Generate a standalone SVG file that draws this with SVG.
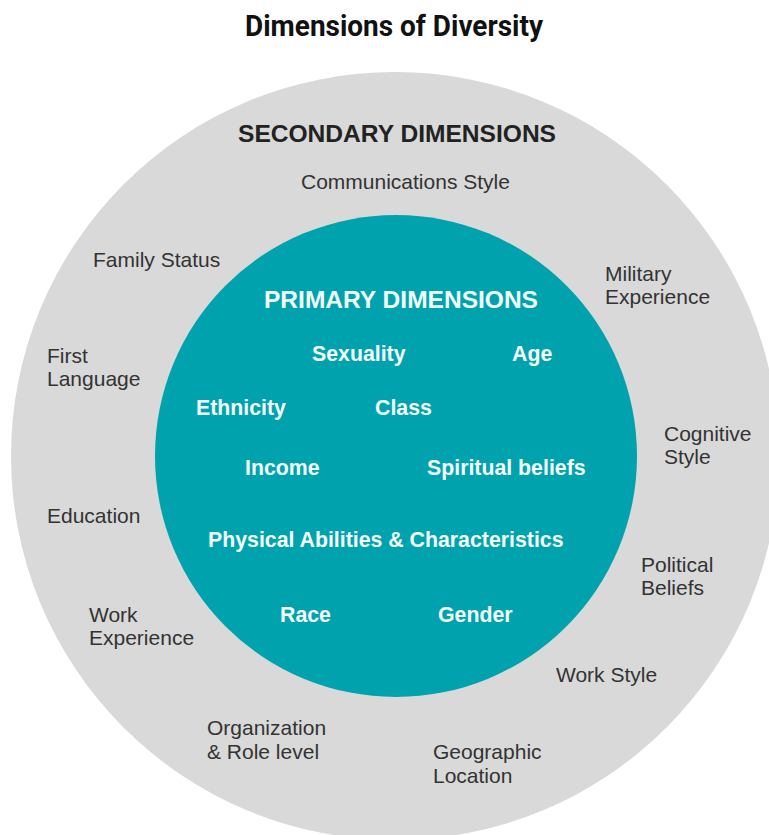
<svg xmlns="http://www.w3.org/2000/svg" width="769" height="835" viewBox="0 0 769 835">
  <style>
    .title { font-family: "Liberation Sans Narrow", "Roboto", "Liberation Sans", sans-serif; font-weight: bold; font-size: 30px; fill: #111111; }
    .head2 { font-family: "Liberation Sans", Arial, sans-serif; font-weight: bold; font-size: 23px; fill: #222222; }
    .head1 { font-family: "Liberation Sans", Arial, sans-serif; font-weight: bold; font-size: 23px; fill: #f2fbfb; }
    .sec { font-family: "Liberation Sans", Arial, sans-serif; font-size: 21px; fill: #333333; }
    .pri { font-family: "Liberation Sans", Arial, sans-serif; font-weight: bold; font-size: 21.3px; fill: #f5fcfc; }
  </style>

  <rect width="769" height="835" fill="#ffffff"/>

  <!-- Title -->
  <text class="title" x="245" y="36" textLength="298" lengthAdjust="spacingAndGlyphs">Dimensions of Diversity</text>

  <!-- Outer ring: secondary dimensions -->
  <g id="secondary">
    <circle cx="395" cy="456" r="384" fill="#d9d9d9"/>
    <text class="head2" x="238" y="142" textLength="318" lengthAdjust="spacingAndGlyphs">SECONDARY DIMENSIONS</text>
    <text class="sec" x="301" y="189">Communications Style</text>
    <text class="sec" x="93" y="267">Family Status</text>
    <text class="sec" x="47" y="363">First</text>
    <text class="sec" x="47" y="386">Language</text>
    <text class="sec" x="47" y="523">Education</text>
    <text class="sec" x="89" y="622">Work</text>
    <text class="sec" x="89" y="645">Experience</text>
    <text class="sec" x="207" y="735">Organization</text>
    <text class="sec" x="207" y="759">&amp; Role level</text>
    <text class="sec" x="433" y="759">Geographic</text>
    <text class="sec" x="433" y="783">Location</text>
    <text class="sec" x="556" y="682">Work Style</text>
    <text class="sec" x="641" y="572">Political</text>
    <text class="sec" x="641" y="595">Beliefs</text>
    <text class="sec" x="664" y="441">Cognitive</text>
    <text class="sec" x="664" y="464">Style</text>
    <text class="sec" x="605" y="281">Military</text>
    <text class="sec" x="605" y="304">Experience</text>
  </g>

  <!-- Inner disc: primary dimensions -->
  <g id="primary">
    <circle cx="396" cy="456" r="241" fill="#00a3ad"/>
    <text class="head1" x="264" y="308" textLength="274" lengthAdjust="spacingAndGlyphs">PRIMARY DIMENSIONS</text>
    <text class="pri" x="312" y="361">Sexuality</text>
    <text class="pri" x="512" y="361">Age</text>
    <text class="pri" x="196" y="415">Ethnicity</text>
    <text class="pri" x="375" y="415">Class</text>
    <text class="pri" x="245" y="475">Income</text>
    <text class="pri" x="427" y="475">Spiritual beliefs</text>
    <text class="pri" x="208" y="547">Physical Abilities &amp; Characteristics</text>
    <text class="pri" x="280" y="622">Race</text>
    <text class="pri" x="438" y="622">Gender</text>
  </g>

  <g id="connectors"/>
</svg>
